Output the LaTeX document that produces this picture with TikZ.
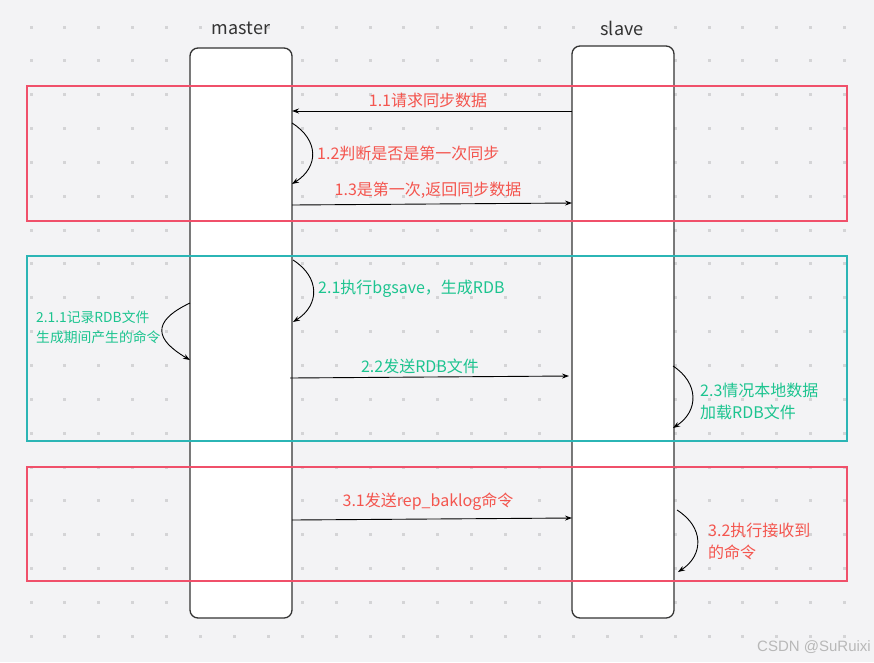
\documentclass[tikz,border=0pt]{standalone}
\usepackage{fontspec}
\setmainfont{Noto Sans CJK SC}
\newfontfamily\wmfont{Liberation Sans}
\usetikzlibrary{arrows.meta}
\definecolor{bg}{HTML}{F3F3F5}
\definecolor{dotc}{HTML}{D4D4D6}
\definecolor{redframe}{HTML}{F0506A}
\definecolor{tealframe}{HTML}{2BB5B5}
\definecolor{redtxt}{HTML}{F4554E}
\definecolor{greentxt}{HTML}{1CC48F}
\definecolor{lifec}{HTML}{333333}
\begin{document}
\begin{tikzpicture}[x=1pt,y=-1pt,
  lifeline/.style={draw=lifec,line width=1.3pt,fill=white,rounded corners=8pt,inner sep=0pt,minimum width=102pt},
  frame/.style={line width=1.4pt},
  msg/.style={draw=black,line width=0.9pt,-{Stealth[length=7pt,width=5pt]}},
  redlab/.style={text=redtxt,font=\fontsize{16}{19}\selectfont,inner sep=1pt},
  greenlab/.style={text=greentxt,font=\fontsize{16}{19}\selectfont,inner sep=1pt},
  title/.style={text=lifec,font=\fontsize{18}{20}\selectfont,inner sep=0pt}]
\useasboundingbox (0,0) rectangle (874,662);
\fill[bg] (0,0) rectangle (874,662);
\foreach \i in {0,...,24}{\foreach \j in {0,...,18}{
  \fill[dotc] ({31+33.9*\i-1.5},{27+33.85*\j-1.5}) rectangle ++(3,3);}}
% lifelines
\node[lifeline,minimum height=570pt] (M) at (241,333) {};
\node[lifeline,minimum height=572pt] (S) at (623,332) {};
\node[title] (mt) at (241,28) {master};
\node[title] (st) at (622,28) {slave};
% frames
\draw[frame,draw=redframe] (27,86) rectangle (847,221);
\draw[frame,draw=tealframe] (27,256) rectangle (847,441);
\draw[frame,draw=redframe] (27,467) rectangle (847,581);
% coordinates
\coordinate (a11s) at (572,111); \coordinate (a11e) at (292,111);
\coordinate (c12s) at (292,123); \coordinate (c12e) at (292,184);
\coordinate (a13s) at (292,205); \coordinate (a13e) at (572,203);
\coordinate (c21s) at (293,260); \coordinate (c21e) at (293,322);
\coordinate (c211s) at (190,303); \coordinate (c211e) at (190,360);
\coordinate (a22s) at (290,378); \coordinate (a22e) at (569,376);
\coordinate (c23s) at (673,366); \coordinate (c23e) at (673,428);
\coordinate (a31s) at (292,520); \coordinate (a31e) at (572,518);
\coordinate (c32s) at (677,510); \coordinate (c32e) at (678,572);
% messages
\draw[msg] (a11s) -- (a11e);
\node[redlab] (l11) at (428,100) {1.1请求同步数据};
\draw[msg] (c12s) .. controls (319,140) and (319,167) .. (c12e);
\node[redlab,anchor=west] (l12) at (316,153) {1.2判断是否是第一次同步};
\draw[msg] (a13s) -- (a13e);
\node[redlab] (l13) at (428,190) {1.3是第一次,返回同步数据};
\draw[msg] (c21s) .. controls (320,277) and (320,305) .. (c21e);
\node[greenlab,anchor=west] (l21) at (317,289) {2.1执行bgsave，生成RDB};
\draw[msg] (c211s) .. controls (150,322) and (156,340) .. (c211e);
\node[text=greentxt,font=\fontsize{13.8}{20}\selectfont,align=left,anchor=west,inner sep=0pt] (l211) at (36,327) {2.1.1记录RDB文件\\生成期间产生的命令};
\draw[msg] (a22s) -- (a22e);
\node[greenlab] (l22) at (420,366) {2.2发送RDB文件};
\draw[msg] (c23s) .. controls (699,383) and (699,411) .. (c23e);
\node[greenlab,anchor=west,align=left,font=\fontsize{16}{22}\selectfont] (l23) at (699,401) {2.3情况本地数据\\加载RDB文件};
\draw[msg] (a31s) -- (a31e);
\node[redlab] (l31) at (428,502) {3.1发送rep\_baklog命令};
\draw[msg] (c32s) .. controls (704,527) and (704,555) .. (c32e);
\node[redlab,anchor=west,align=left,font=\fontsize{16}{22}\selectfont] (l32) at (707,541) {3.2执行接收到\\的命令};
% watermark
\node[text=black!28,font=\fontsize{15}{17}\selectfont\wmfont,anchor=east,inner sep=0pt] (wm) at (871,647) {CSDN @SuRuixi};
\end{tikzpicture}
\end{document}
